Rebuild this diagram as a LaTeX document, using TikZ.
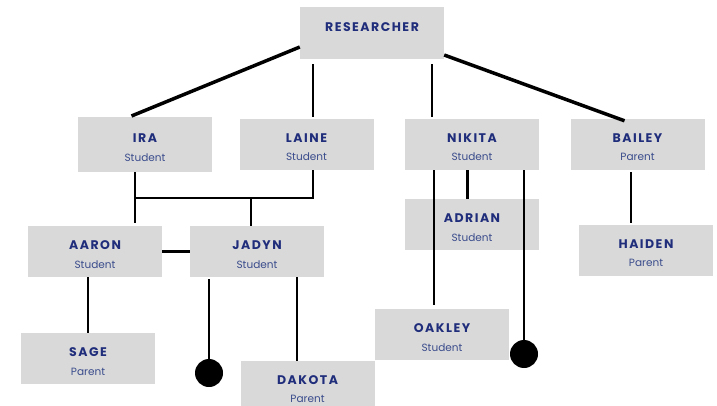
\documentclass[tikz,border=0pt]{standalone}
\usepackage{fontspec}
\setmainfont{Poppins}
\newfontfamily\nmfont[LetterSpace=12]{Poppins}
\usetikzlibrary{calc}
\definecolor{navy}{HTML}{1F2D7B}
\definecolor{rolec}{HTML}{3A4C8C}
\definecolor{boxc}{HTML}{D9D9D9}
\tikzset{
  box/.style={fill=boxc, draw=none, minimum width=134pt, minimum height=51pt, inner sep=0pt},
  nm/.style={anchor=base, inner sep=0pt, text=navy, font=\nmfont\bfseries\fontsize{12.5}{14}\selectfont},
  sb/.style={anchor=base, inner sep=0pt, text=rolec, font=\fontsize{10.5}{12}\selectfont},
  ln/.style={line width=2.3pt, black},
  thk/.style={line width=3.5pt, black},
  dotc/.style={circle, fill=black, minimum size=28pt, inner sep=0pt}
}
\newcommand\pbox[5]{%
  \node[box] (#1) at (#2,#3) {};
  \node[nm] (#1-n) at ([yshift=2pt]#1.center) {#4};
  \node[sb] (#1-r) at ([yshift=-16.5pt]#1.center) {#5};
}
\begin{document}
\begin{tikzpicture}[x=1pt,y=-1pt]
\useasboundingbox (0,0) rectangle (717,406);
% boxes
\node[box, minimum width=144pt, minimum height=52pt] (res) at (372,33) {};
\node[nm] (res-n) at ([yshift=1pt]res.center) {RESEARCHER};
\node[box, minimum height=55pt] (ira) at (145,144.7) {};
\node[nm] (ira-n) at ([yshift=2pt]ira.center) {IRA};
\node[sb] (ira-r) at ([yshift=-16.5pt]ira.center) {Student};
\pbox{laine}{306.5}{144.5}{LAINE}{Student}
\pbox{nikita}{472}{144.5}{NIKITA}{Student}
\pbox{bailey}{637.5}{144.5}{BAILEY}{Parent}
\pbox{adrian}{472}{224.5}{ADRIAN}{Student}
\pbox{haiden}{646}{250.2}{HAIDEN}{Parent}
\pbox{aaron}{95}{251.5}{AARON}{Student}
\pbox{jadyn}{257}{251.5}{JADYN}{Student}
\pbox{sage}{88}{358.5}{SAGE}{Parent}
\pbox{oakley}{442}{334.5}{OAKLEY}{Student}
\pbox{dakota}{307.5}{386.2}{DAKOTA}{Parent}
\node[dotc] (dot1) at (209,373) {};
\node[dotc] (dot2) at (524,354) {};
% top connectors
\draw[thk] ([yshift=-14pt]res.west) -- ([xshift=-13.5pt,yshift=1pt]ira.north);
\draw[thk] ([yshift=-22pt]res.east) -- ([xshift=-13pt,yshift=-2pt]bailey.north);
\coordinate (lt) at ([xshift=6.7pt]laine.north);
\draw[ln] ([yshift=-5pt]res.south -| lt) -- ([yshift=2pt]lt);
\coordinate (nt) at ([xshift=-40pt]nikita.north);
\draw[ln] ([yshift=-5pt]res.south -| nt) -- ([yshift=2pt]nt);
% IRA / LAINE to AARON / JADYN
\coordinate (ix) at ([xshift=-10pt]ira.south);
\coordinate (lx) at ([xshift=6.7pt]laine.south);
\coordinate (jx) at ([xshift=-6.3pt]jadyn.north);
\coordinate (hm) at (0,198.3);
\draw[ln] (ix) -- ([yshift=3pt]ix |- aaron.north);
\draw[ln] (ix |- hm) -| (lx);
\draw[ln] (jx |- hm) -- (jx);
\draw[ln] (aaron.east) -- (jadyn.west);
% AARON to SAGE
\coordinate (ax) at ([xshift=-7pt]aaron.south);
\draw[ln] (ax) -- (ax |- sage.north);
% JADYN down
\draw[ln] ([yshift=-2pt]dot1 |- jadyn.south) -- (dot1.center);
\coordinate (jd) at ([xshift=40pt]jadyn.south);
\draw[ln] (jd) -- (jd |- dakota.north);
% NIKITA down
\coordinate (n1) at ([xshift=-38pt]nikita.south);
\draw[ln] (n1) -- ([yshift=3.5pt]n1 |- oakley.north);
\coordinate (n2) at ([xshift=-4.4pt]nikita.south);
\draw[ln] (n2) -- (n2 |- adrian.north);
\draw[ln] (dot2 |- nikita.south) -- (dot2.center);
% BAILEY to HAIDEN
\coordinate (bx) at ([xshift=-6.5pt,yshift=-2pt]bailey.south);
\draw[ln] (bx) -- ([yshift=2pt]bx |- haiden.north);
\end{tikzpicture}
\end{document}
